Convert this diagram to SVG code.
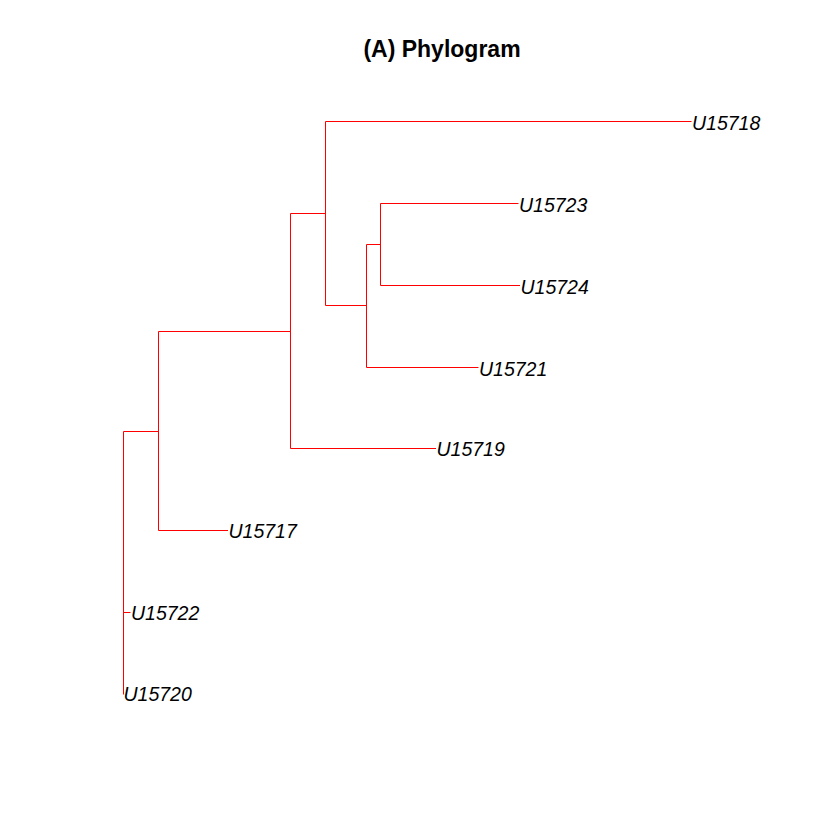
<svg xmlns="http://www.w3.org/2000/svg" width="840" height="840" viewBox="0 0 840 840">
<style>
.e{stroke:#FF0000;stroke-width:1;fill:none}
.t{font-family:"Liberation Sans",Arial,sans-serif;font-style:italic;font-size:19.5px;fill:#000}
.title{font-family:"Liberation Sans",Arial,sans-serif;font-weight:bold;font-size:23px;fill:#000}
</style>
<rect width="840" height="840" fill="#fff"/>
<text class="title" x="442" y="57" text-anchor="middle">(A) Phylogram</text>
<g id="connectors">
<path class="e" d="M123.5,431.5V694.5M123.5,431.5H158.5M123.5,612.5H130.5"/>
<path class="e" d="M158.5,331.5V530.5M158.5,331.5H290.5M158.5,530.5H228"/>
<path class="e" d="M290.5,213.5V448.5M290.5,213.5H325.5M290.5,448.5H436"/>
<path class="e" d="M325.5,121.5V305.5M325.5,121.5H691.5M325.5,305.5H366.5"/>
<path class="e" d="M366.5,244.5V367.5M366.5,244.5H380.5M366.5,367.5H478.5"/>
<path class="e" d="M380.5,203.5V285.5M380.5,203.5H518.5M380.5,285.5H520"/>
</g>
<g id="U15718"><text class="t" x="692" y="129.5">U15718</text></g>
<g id="U15723"><text class="t" x="519" y="211.5">U15723</text></g>
<g id="U15724"><text class="t" x="520.5" y="293.5">U15724</text></g>
<g id="U15721"><text class="t" x="479" y="375.5">U15721</text></g>
<g id="U15719"><text class="t" x="436.5" y="456">U15719</text></g>
<g id="U15717"><text class="t" x="228.5" y="538">U15717</text></g>
<g id="U15722"><text class="t" x="131" y="620">U15722</text></g>
<g id="U15720"><text class="t" x="123.5" y="701">U15720</text></g>
</svg>
